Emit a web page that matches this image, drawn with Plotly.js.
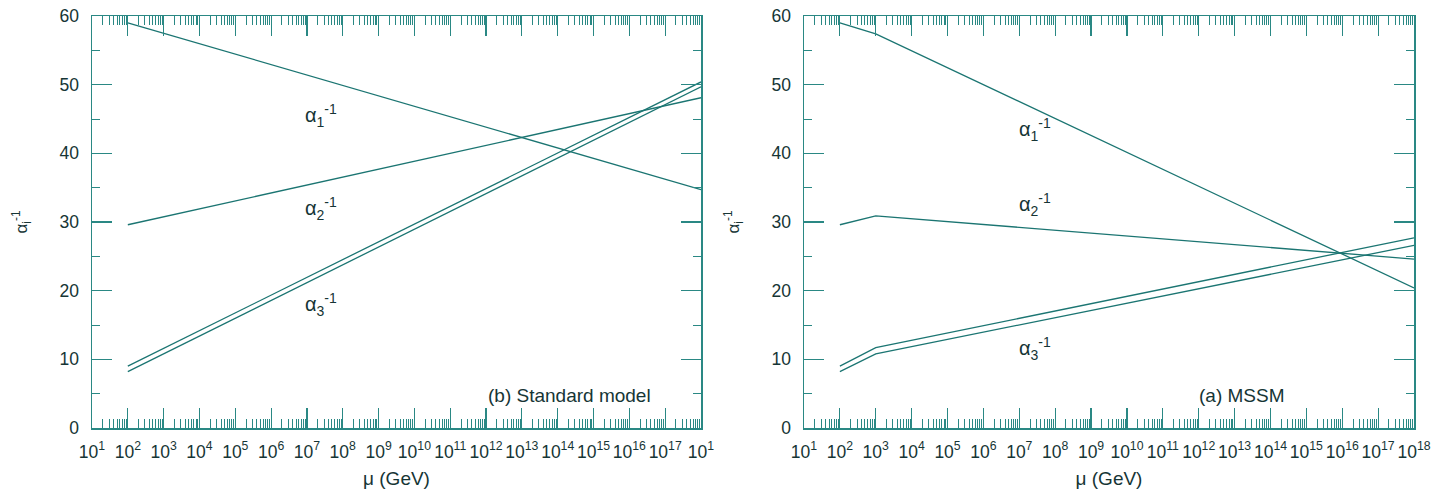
<!DOCTYPE html>
<html>
<head>
<meta charset="utf-8">
<script src="https://cdn.plot.ly/plotly-3.0.1.min.js"></script>
<style>html,body{margin:0;padding:0;background:#fff;}#chart{width:1447px;height:492px;}</style>
</head>
<body>
<div id="chart"></div>
<script>
// ---- data ----
const decadeExps = [1,2,3,4,5,6,7,8,9,10,11,12,13,14,15,16,17,18];
const smTickLabels = ['10<sup>1</sup>','10<sup>2</sup>','10<sup>3</sup>','10<sup>4</sup>','10<sup>5</sup>','10<sup>6</sup>','10<sup>7</sup>','10<sup>8</sup>','10<sup>9</sup>','10<sup>10</sup>','10<sup>11</sup>','10<sup>12</sup>','10<sup>13</sup>','10<sup>14</sup>','10<sup>15</sup>','10<sup>16</sup>','10<sup>17</sup>','10<sup>1</sup>'];
const mssmTickLabels = ['10<sup>1</sup>','10<sup>2</sup>','10<sup>3</sup>','10<sup>4</sup>','10<sup>5</sup>','10<sup>6</sup>','10<sup>7</sup>','10<sup>8</sup>','10<sup>9</sup>','10<sup>10</sup>','10<sup>11</sup>','10<sup>12</sup>','10<sup>13</sup>','10<sup>14</sup>','10<sup>15</sup>','10<sup>16</sup>','10<sup>17</sup>','10<sup>18</sup>'];
const yTickVals = [0,10,20,30,40,50,60];

// Standard model (b)
const smMu   = [1e2, 1e18];
const smA1   = [59.0, 34.7];
const smA2   = [29.6, 48.1];
const smA3hi = [9.0, 50.4];
const smA3lo = [8.2, 49.7];

// MSSM (a)
const mssmMu   = [1e2, 1e3, 1e18];
const mssmA1   = [59.0, 57.4, 20.4];
const mssmA2   = [29.6, 30.9, 24.6];
const mssmA3hi = [9.0, 11.7, 27.7];
const mssmA3lo = [8.2, 10.8, 26.6];

const panelLabels = ['(b) Standard model', '(a) MSSM'];
const curveLabels = ['α<sub>1</sub><sup>-1</sup>', 'α<sub>2</sub><sup>-1</sup>', 'α<sub>3</sub><sup>-1</sup>'];

// ---- style ----
const LINE = '#1b7572';
const AX = '#2a8884';
const TXT = '#163535';
const FONT = 'Liberation Sans, Arial, sans-serif';

function line(x, y, xa, ya) {
  return {x: x, y: y, xaxis: xa, yaxis: ya, type: 'scatter', mode: 'lines',
          line: {color: LINE, width: 1.3}, hoverinfo: 'skip', showlegend: false};
}

const traces = [
  line(smMu, smA1, 'x', 'y'),
  line(smMu, smA2, 'x', 'y'),
  line(smMu, smA3hi, 'x', 'y'),
  line(smMu, smA3lo, 'x', 'y'),
  line(mssmMu, mssmA1, 'x2', 'y2'),
  line(mssmMu, mssmA2, 'x2', 'y2'),
  line(mssmMu, mssmA3hi, 'x2', 'y2'),
  line(mssmMu, mssmA3lo, 'x2', 'y2')
];

const tickVals = decadeExps.map(e => Math.pow(10, e));

function xaxis(domain, labels, anchor) {
  return {
    type: 'log', range: [1, 18], domain: domain, anchor: anchor,
    tickmode: 'array', tickvals: tickVals, ticktext: labels,
    ticks: 'inside', ticklen: 20, tickwidth: 1.2, tickcolor: AX,
    minor: {ticks: 'inside', ticklen: 9, tickwidth: 1, tickcolor: AX, dtick: 'D1', showgrid: false},
    showline: true, linecolor: AX, linewidth: 1.5, mirror: 'ticks',
    showgrid: false, zeroline: false,
    tickfont: {family: FONT, size: 17.5, color: TXT},
    ticklabelstandoff: 7,
    title: {text: 'μ (GeV)', font: {family: FONT, size: 19, color: TXT}, standoff: 11}
  };
}
function yaxis(anchor) {
  return {
    range: [0, 60], anchor: anchor,
    tickmode: 'array', tickvals: yTickVals,
    ticks: 'inside', ticklen: 20, tickwidth: 1.2, tickcolor: AX,
    minor: {ticks: 'inside', ticklen: 8, tickwidth: 1, tickcolor: AX, dtick: 5, showgrid: false},
    showline: true, linecolor: AX, linewidth: 1.5, mirror: 'ticks',
    showgrid: false, zeroline: false,
    tickfont: {family: FONT, size: 17.5, color: TXT},
    ticklabelstandoff: 8,
    title: {text: 'α<sub>i</sub><sup>-1</sup>', font: {family: FONT, size: 17, color: TXT}, standoff: 27}
  };
}

function ann(text, x, y, xr, yr, size) {
  return {text: text, x: x, y: y, xref: xr, yref: yr, showarrow: false,
          xanchor: 'center', yanchor: 'middle',
          font: {family: FONT, size: size || 20, color: TXT}};
}

const layout = {
  width: 1447, height: 492,
  margin: {l: 0, r: 0, t: 16, b: 64},
  paper_bgcolor: '#ffffff', plot_bgcolor: '#ffffff',
  showlegend: false,
  xaxis: xaxis([92/1447, 701/1447], smTickLabels, 'y'),
  yaxis: yaxis('x'),
  xaxis2: xaxis([804/1447, 1414/1447], mssmTickLabels, 'y2'),
  yaxis2: yaxis('x2'),
  annotations: [
    ann(curveLabels[0], 7.4, 45.5, 'x', 'y'),
    ann(curveLabels[1], 7.4, 32.0, 'x', 'y'),
    ann(curveLabels[2], 7.4, 18.0, 'x', 'y'),
    ann(panelLabels[0], 14.32, 4.8, 'x', 'y', 19),
    ann(curveLabels[0], 7.44, 43.5, 'x2', 'y2'),
    ann(curveLabels[1], 7.44, 32.6, 'x2', 'y2'),
    ann(curveLabels[2], 7.44, 11.6, 'x2', 'y2'),
    ann(panelLabels[1], 13.2, 4.8, 'x2', 'y2', 19)
  ]
};

Plotly.newPlot('chart', traces, layout, {staticPlot: true, displayModeBar: false});
</script>
</body>
</html>
